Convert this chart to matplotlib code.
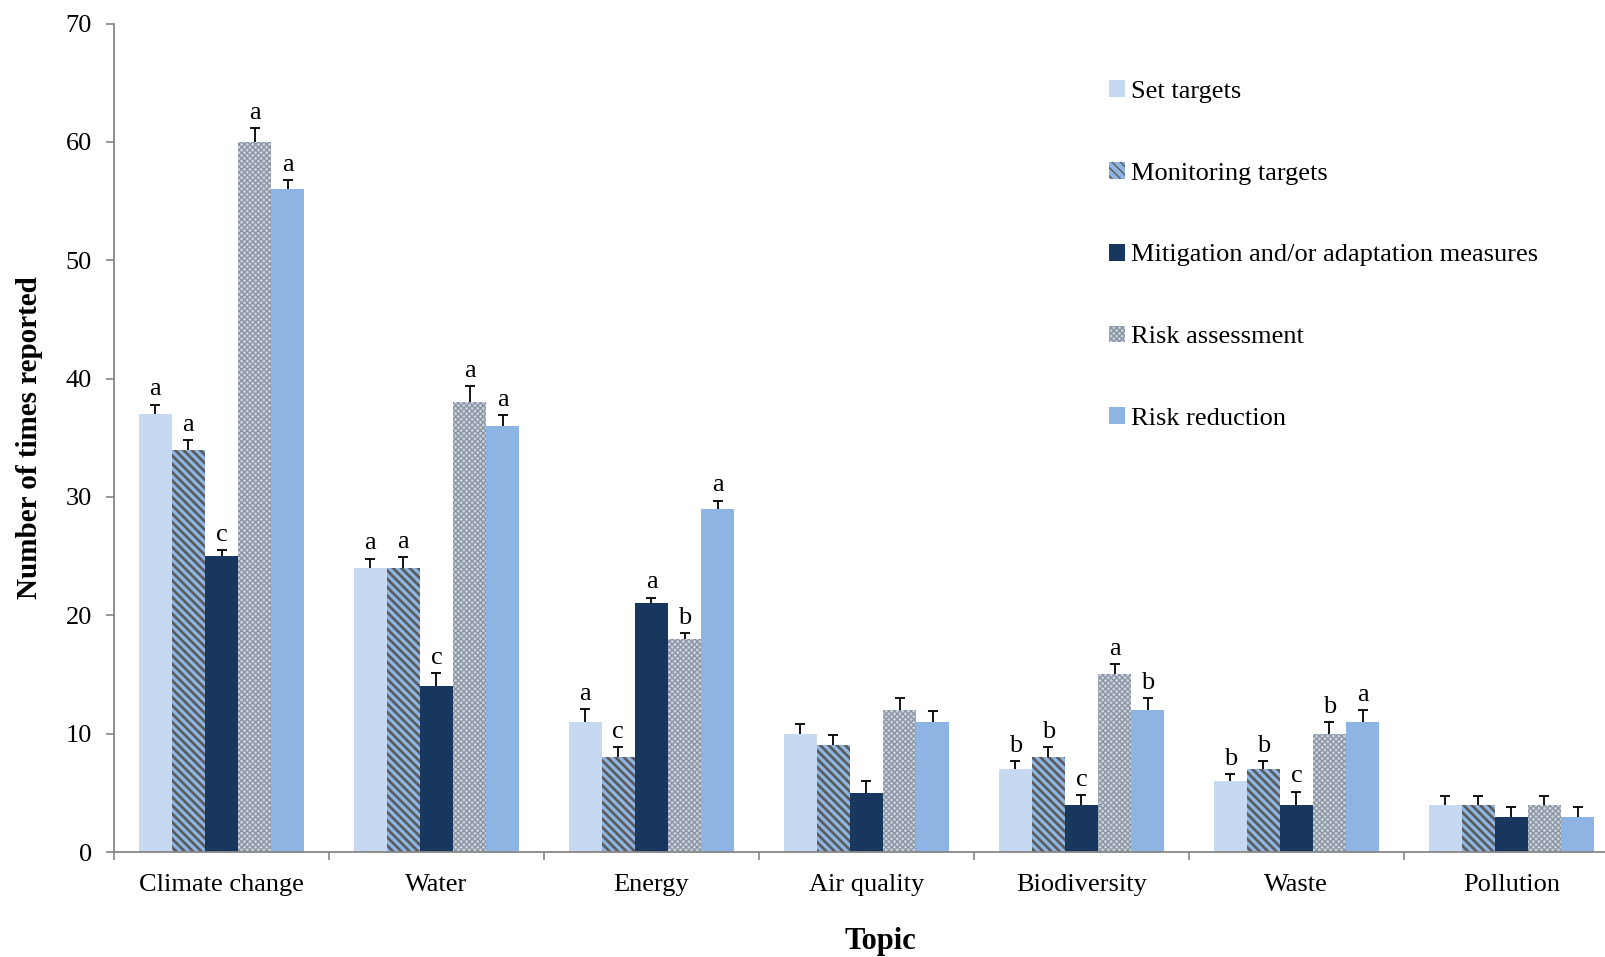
import numpy as np
import matplotlib
matplotlib.use("Agg")
import matplotlib.pyplot as plt
from matplotlib.patches import Patch

plt.rcParams['font.family'] = ['Liberation Serif', 'DejaVu Serif']

topics = ['Climate change', 'Water', 'Energy', 'Air quality', 'Biodiversity', 'Waste', 'Pollution']
series = ['Set targets', 'Monitoring targets', 'Mitigation and/or adaptation measures',
          'Risk assessment', 'Risk reduction']

set_targets = [37, 24, 11, 10, 7, 6, 4]
monitoring = [34, 24, 8, 9, 8, 7, 4]
mitigation = [25, 14, 21, 5, 4, 4, 3]
risk_assess = [60, 38, 18, 12, 15, 10, 4]
risk_reduce = [56, 36, 29, 11, 12, 11, 3]

err_set = [0.8, 0.8, 1.1, 0.8, 0.7, 0.6, 0.7]
err_mon = [0.8, 0.9, 0.9, 0.9, 0.9, 0.7, 0.7]
err_mit = [0.5, 1.1, 0.5, 1.0, 0.8, 1.1, 0.8]
err_ra = [1.2, 1.4, 0.5, 1.0, 0.9, 1.0, 0.7]
err_rr = [0.8, 0.9, 0.7, 0.9, 1.0, 1.0, 0.8]

let_set = ['a', 'a', 'a', '', 'b', 'b', '']
let_mon = ['a', 'a', 'c', '', 'b', 'b', '']
let_mit = ['c', 'c', 'a', '', 'c', 'c', '']
let_ra = ['a', 'a', 'b', '', 'a', 'b', '']
let_rr = ['a', 'a', 'a', '', 'b', 'a', '']

values = [set_targets, monitoring, mitigation, risk_assess, risk_reduce]
errors = [err_set, err_mon, err_mit, err_ra, err_rr]
letters = [let_set, let_mon, let_mit, let_ra, let_rr]

# face colour, hatch, hatch colour, hatch linewidth
styles = [
    ('#C6D9F1', None, None, 1.0),
    ('#8DB4E2', '\\\\\\\\', '#5A5A5A', 1.9),
    ('#17375E', None, None, 1.0),
    ('#C9D1DC', 'xxxxxx', '#8A93A0', 0.9),
    ('#8DB4E2', None, None, 1.0),
]

fig = plt.figure(figsize=(16.06, 9.57), dpi=100)
ax = fig.add_axes([0.071, 0.1097, 0.937, 0.8657])

x = np.arange(len(topics))
w = 0.154
handles = []
for i, (vals, errs, lets, st) in enumerate(zip(values, errors, letters, styles)):
    fc, hatch, hc, hlw = st
    pos = x + (i - 2) * w
    with plt.rc_context({'hatch.linewidth': hlw, 'hatch.color': hc or 'black'}):
        ax.bar(pos, vals, width=w, color=fc, hatch=hatch,
               edgecolor=hc if hatch else 'none', linewidth=0, zorder=2)
        handles.append(Patch(facecolor=fc, hatch=hatch, edgecolor=hc if hatch else 'none',
                             linewidth=0))
    # upper whisker only, with a cap on top
    tops = np.add(vals, errs)
    ax.vlines(pos, vals, tops, color='black', linewidth=1.3, zorder=3)
    ax.plot(pos, tops, linestyle='none', marker='_', markersize=7.5,
            markeredgewidth=1.3, color='black', zorder=3)
    for p, t_y, t in zip(pos, tops, lets):
        if t:
            ax.annotate(t, (p, t_y), xytext=(0, 3), textcoords='offset points',
                        ha='center', va='bottom', fontsize=19)

ax.set_xlim(-0.5, len(topics) - 0.5)
ax.set_ylim(0, 70)
ax.set_yticks(range(0, 71, 10))
ax.set_xticks(np.arange(len(topics) + 1) - 0.5)
ax.set_xticklabels([])
ax.set_xticks(x, minor=True)
ax.set_xticklabels(topics, minor=True, fontsize=19)
ax.tick_params(axis='x', which='minor', length=0, pad=16)
ax.tick_params(axis='x', which='major', length=6, width=1.2, color='#878787', direction='out')
ax.tick_params(axis='y', length=6, width=1.2, color='#878787', labelsize=19, pad=10)

for side in ['top', 'right']:
    ax.spines[side].set_visible(False)
for side in ['left', 'bottom']:
    ax.spines[side].set_color('#878787')
    ax.spines[side].set_linewidth(1.3)

ax.set_ylabel('Number of times reported', fontsize=21, fontweight='bold', labelpad=16)
ax.set_xlabel('Topic', fontsize=22, fontweight='bold', labelpad=22, x=0.509)

fig.legend(handles, series, loc='upper left', bbox_to_anchor=(0.676, 0.941),
           frameon=False, fontsize=19, handlelength=0.6, handleheight=0.6,
           handletextpad=0.2, labelspacing=2.24)

fig.savefig('out.png', dpi=100)
